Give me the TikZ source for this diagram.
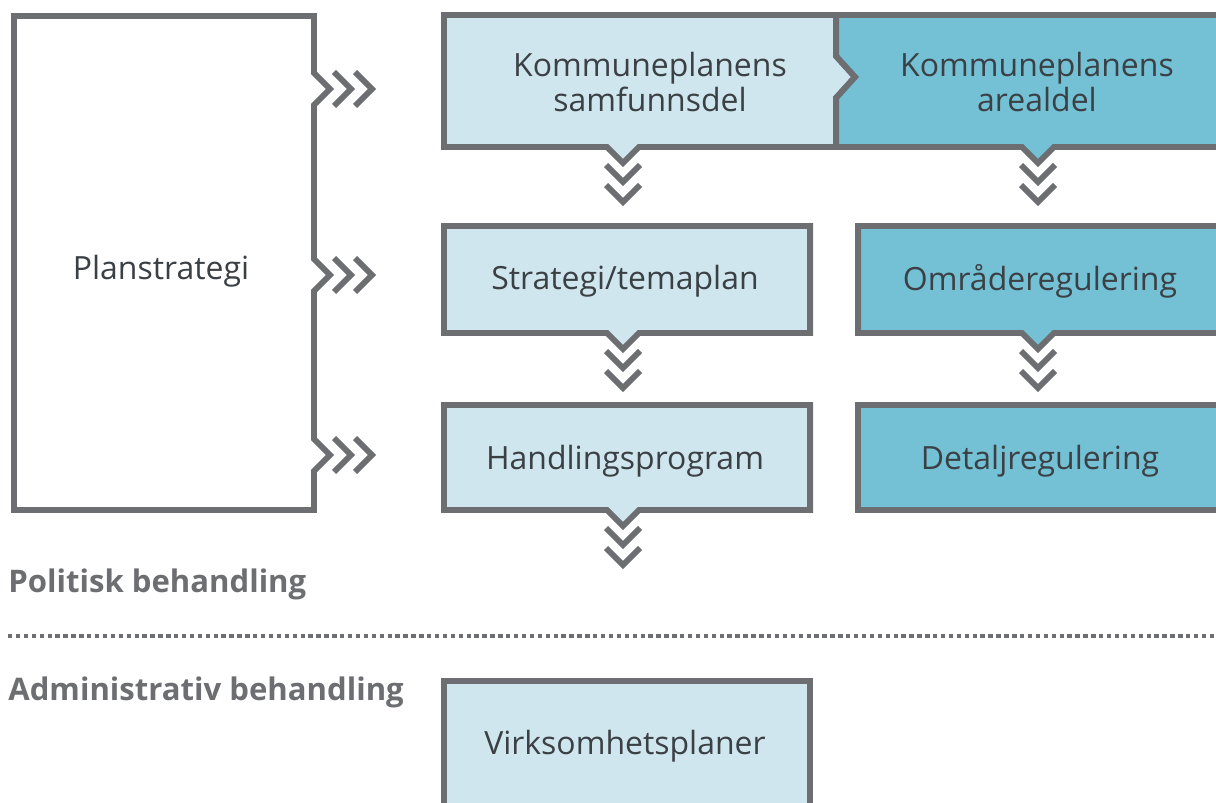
\documentclass[tikz,border=0pt]{standalone}
\usepackage{fontspec}
\setmainfont{Open Sans}
\usetikzlibrary{positioning}
\definecolor{edgegray}{HTML}{6D6E71}
\definecolor{lightblue}{HTML}{CFE6EE}
\definecolor{darkblue}{HTML}{74C1D5}
\definecolor{textgray}{HTML}{3B4045}

\begin{document}
\begin{tikzpicture}[x=0.02cm, y=-0.02cm,
		outline/.style={draw=edgegray, line width=3.4pt},
		chev/.style={draw=edgegray, line width=3.4pt},
		lbl/.style={text=textgray, font=\fontsize{18.2}{19.6}\selectfont, align=center},
		heading/.style={text=edgegray, font=\fontsize{17.7}{22}\selectfont\bfseries, anchor=west, inner sep=0pt}]
			\clip (0,0) rectangle (1216,803);
			
			% planstrategi, with a notch for each row
			\draw[outline, fill=white] (14,16) -- (314,16) -- (314,73) -- (330,89) -- (314,105)
				-- (314,259) -- (330,275) -- (314,291) -- (314,439) -- (330,455) -- (314,471)
				-- (314,510) -- (14,510) -- cycle;
			\foreach \y in {89,275,455}
				\foreach \x in {351,372}
					\draw[chev] (\x-17,\y-17) -- (\x,\y) -- (\x-17,\y+17);
			
			% kommuneplanen
			\draw[outline, fill=lightblue] (444,15) -- (836,15) -- (836,56) -- (855,77) -- (836,98)
				-- (836,147) -- (639,147) -- (623,163) -- (607,147) -- (444,147) -- cycle;
			\draw[outline, fill=darkblue] (836,15) -- (1230,15) -- (1230,147) -- (1054,147)
				-- (1038,163) -- (1022,147) -- (836,147) -- (836,98) -- (855,77) -- (836,56) -- cycle;
			
			% second and third row
			\draw[outline, fill=lightblue] (444,226) -- (810,226) -- (810,333) -- (639,333)
				-- (623,349) -- (607,333) -- (444,333) -- cycle;
			\draw[outline, fill=darkblue] (858,226) -- (1230,226) -- (1230,333) -- (1054,333)
				-- (1038,349) -- (1022,333) -- (858,333) -- cycle;
			\draw[outline, fill=lightblue] (444,405) -- (810,405) -- (810,510) -- (639,510)
				-- (623,526) -- (607,510) -- (444,510) -- cycle;
			\draw[outline, fill=darkblue] (858,405) rectangle (1230,510);
			\draw[outline, fill=lightblue] (444,681) rectangle (810,830);
			
			% chevrons below the notches
			\foreach \x/\y in {623/163, 1038/163, 623/349, 1038/349, 623/526}
				\foreach \d in {19,39}
					\draw[chev] (\x-17,\y+\d-17) -- (\x,\y+\d) -- (\x+17,\y+\d-17);
			
			\node[lbl] (plan) at (161,271) {Planstrategi};
			\node[lbl] (samf) at (650,82) {Kommuneplanens\\samfunnsdel};
			\node[lbl] (areal) at (1037,82) {Kommuneplanens\\arealdel};
			\node[lbl] (strat) at (625,281) {Strategi/temaplan};
			\node[lbl] (omr) at (1040,281) {Områderegulering};
			\node[lbl] (handl) at (625,461) {Handlingsprogram};
			\node[lbl] (detalj) at (1040,461) {Detaljregulering};
			\node[lbl] (virk) at (625,746) {Virksomhetsplaner};
			
			\node[heading] (polit) at (8,584) {Politisk behandling};
			\node[heading] (admin) at (8,692) {Administrativ behandling};
			\draw[edgegray, line width=2.8pt, dash pattern=on 2.5pt off 2pt] (8,636) -- (1216,636);
		\end{tikzpicture}
\end{document}
